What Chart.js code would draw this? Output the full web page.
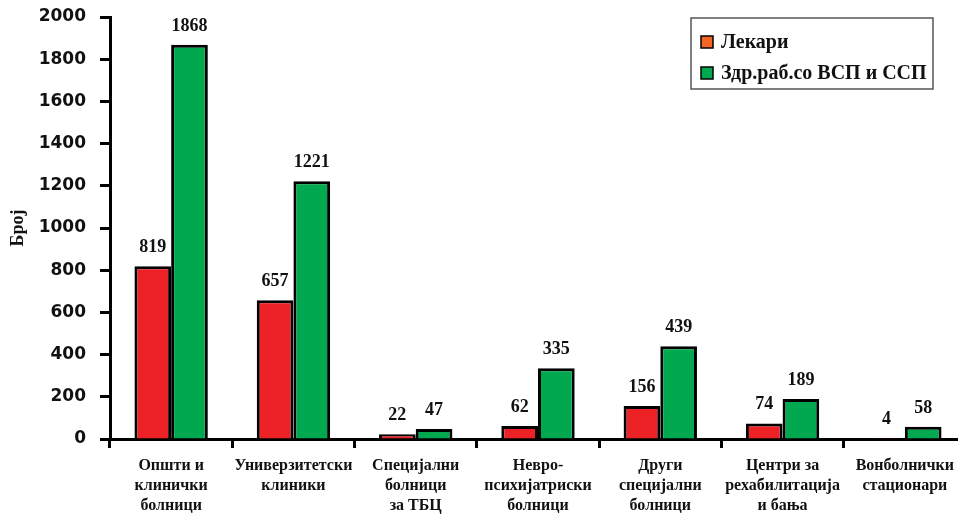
<!DOCTYPE html>
<html>
<head>
<meta charset="utf-8">
<script src="https://cdn.jsdelivr.net/npm/chart.js@4.4.1/dist/chart.umd.min.js"></script>
<style>
html,body{margin:0;padding:0;background:#fff;overflow:hidden;width:958px;height:518px;}
#wrap{position:absolute;left:0;top:0;width:970px;height:518px;}
canvas{display:block;}
</style>
</head>
<body>
<div id="wrap"><canvas id="c" width="970" height="518"></canvas></div>
<script>
const categories = [
  ["Општи и","клинички","болници"],
  ["Универзитетски","клиники"],
  ["Специјални","болници","за ТБЦ"],
  ["Невро-","психијатриски","болници"],
  ["Други","специјални","болници"],
  ["Центри за","рехабилитација","и бања"],
  ["Вонболнички","стационари"]
];
const seriesNames = ["Лекари", "Здр.раб.со ВСП и ССП"];
const lekari = [819, 657, 22, 62, 156, 74, 4];
const zdrRab = [1868, 1221, 47, 335, 439, 189, 58];
const yTicks = [0, 200, 400, 600, 800, 1000, 1200, 1400, 1600, 1800, 2000];

const barColors = ["#ED2227", "#00A94F"];
const legendColors = ["#F26522", "#00A94F"];
const serif = "'Liberation Serif', 'Times New Roman', serif";
const sans = "'DejaVu Sans', Verdana, sans-serif";

const valueLabels = {
  id: 'valueLabels',
  afterDatasetsDraw(chart) {
    const ctx = chart.ctx;
    ctx.save();
    ctx.font = "bold 18px " + serif;
    ctx.fillStyle = "#111";
    ctx.textAlign = "center";
    ctx.textBaseline = "alphabetic";
    chart.data.datasets.forEach((ds, i) => {
      const meta = chart.getDatasetMeta(i);
      meta.data.forEach((bar, j) => {
        ctx.fillText(String(ds.data[j]), bar.x, bar.y - 14);
      });
    });
    ctx.restore();
  }
};

const boxLegend = {
  id: 'boxLegend',
  afterDraw(chart) {
    const ctx = chart.ctx;
    ctx.save();
    const x0 = 691, y0 = 18, w = 242, h = 71;
    ctx.fillStyle = "#fff";
    ctx.fillRect(x0, y0, w, h);
    ctx.strokeStyle = "#555";
    ctx.lineWidth = 1.5;
    ctx.strokeRect(x0, y0, w, h);
    ctx.font = "bold 20px " + serif;
    ctx.textBaseline = "middle";
    ctx.textAlign = "left";
    chart.data.datasets.forEach((ds, i) => {
      const cy = 42 + i * 31;
      ctx.fillStyle = legendColors[i];
      ctx.fillRect(701, cy - 6, 12, 12);
      ctx.strokeStyle = "#000";
      ctx.lineWidth = 1.5;
      ctx.strokeRect(701, cy - 6, 12, 12);
      ctx.fillStyle = "#111";
      ctx.fillText(ds.label, 721, cy + 1);
    });
    ctx.restore();
  }
};

new Chart(document.getElementById('c'), {
  type: 'bar',
  data: {
    labels: categories,
    datasets: [
      { label: seriesNames[0], data: lekari, backgroundColor: barColors[0], borderColor: "#000", borderWidth: 3, borderSkipped: 'bottom' },
      { label: seriesNames[1], data: zdrRab, backgroundColor: barColors[1], borderColor: "#000", borderWidth: 3, borderSkipped: 'bottom' }
    ]
  },
  options: {
    responsive: false,
    animation: false,
    devicePixelRatio: 1,
    layout: { padding: { left: 0, top: 17, right: 4, bottom: 0 }, autoPadding: false },
    plugins: { legend: { display: false }, tooltip: { enabled: false } },
    datasets: { bar: { categoryPercentage: 0.6, barPercentage: 1.0 } },
    scales: {
      x: {
        offset: true,
        grid: { offset: true, drawOnChartArea: false, drawTicks: true, tickLength: 9, tickWidth: 3, tickColor: "#000" },
        border: { display: true, color: "#000", width: 3 },
        ticks: { color: "#111", font: { family: serif, size: 16, weight: 'bold', lineHeight: 1.25 }, padding: 8, maxRotation: 0, autoSkip: false },
        afterFit(scale) { scale.height = 79; scale.paddingLeft = 0; scale.paddingRight = 0; }
      },
      y: {
        min: 0, max: 2000,
        afterBuildTicks(scale) { scale.ticks = yTicks.map(v => ({ value: v })); },
        grid: { drawOnChartArea: false, drawTicks: true, tickLength: 10, tickWidth: 3, tickColor: "#000" },
        border: { display: true, color: "#000", width: 3 },
        ticks: { color: "#111", font: { family: sans, size: 17, weight: 'bold' }, padding: 14, callback: (v) => String(v) },
        title: { display: true, text: "Број", color: "#111", font: { family: serif, size: 18, weight: 'bold' }, padding: { top: 8, bottom: 0 } },
        afterFit(scale) { scale.width = 110; scale.paddingTop = 0; scale.paddingBottom = 0; }
      }
    }
  },
  plugins: [valueLabels, boxLegend]
});
</script>
</body>
</html>
